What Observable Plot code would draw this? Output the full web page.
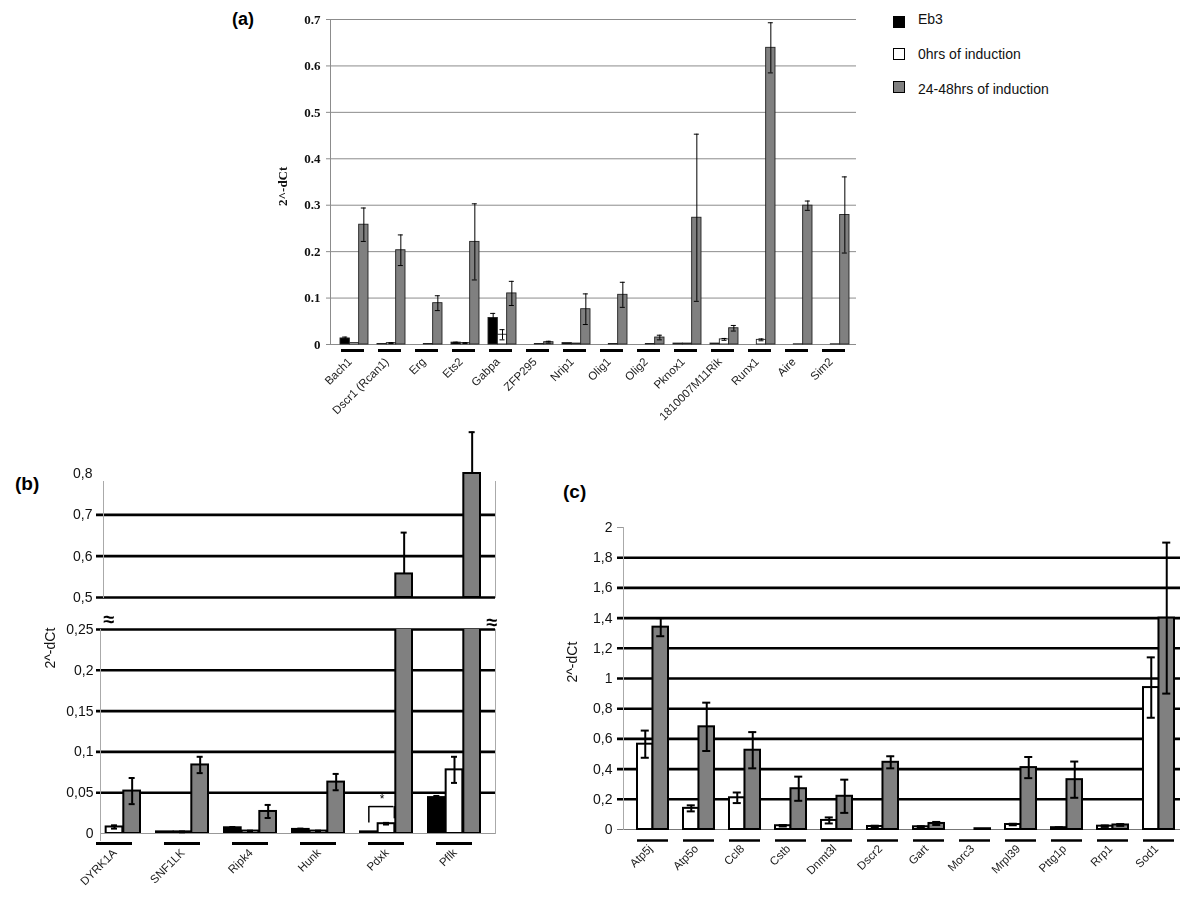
<!DOCTYPE html>
<html><head><meta charset="utf-8">
<script src="https://cdn.jsdelivr.net/npm/d3@7"></script>
<script src="https://cdn.jsdelivr.net/npm/@observablehq/plot@0.6"></script>
<style>
body{margin:0;background:#fff;}
#root{position:relative;width:1200px;height:898px;overflow:hidden;font-family:"Liberation Sans",Arial,sans-serif;background:#fff;}
.abs{position:absolute;white-space:nowrap;}
.sq{position:absolute;box-sizing:border-box;width:12px;height:12px;border:1.5px solid #000;}
.lg{position:absolute;font-size:14px;line-height:16px;color:#111;white-space:nowrap;}
.pl{position:absolute;font-weight:bold;font-family:"Liberation Sans",Arial,sans-serif;}
svg{filter:grayscale(100%);}
</style></head><body><div id="root"></div>
<script>
// ---------- shared series ----------
const seriesNames = ["Eb3", "0hrs of induction", "24-48hrs of induction"];
const seriesFill = ["#000000", "#ffffff", "#808080"];

// ---------- panel (a) ----------
const genesA = ["Bach1", "Dscr1 (Rcan1)", "Erg", "Ets2", "Gabpa", "ZFP295", "Nrip1", "Olig1", "Olig2", "Pknox1", "1810007M11Rik", "Runx1", "Aire", "Sim2"];
const eb3A    = [0.013, 0.001, 0, 0.004, 0.057, 0, 0.003, 0, 0, 0.002, 0.002, 0, 0, 0];
const eb3ErrA = [0.003, 0, 0, 0.001, 0.010, 0, 0, 0, 0, 0, 0, 0, 0, 0];
const h0A     = [0.003, 0.003, 0.001, 0.003, 0.021, 0.001, 0.002, 0.001, 0.001, 0.002, 0.011, 0.010, 0.0005, 0.0005];
const h0ErrA  = [0, 0.001, 0, 0.001, 0.011, 0, 0, 0, 0, 0, 0.002, 0.002, 0, 0];
const h24A    = [0.258, 0.203, 0.089, 0.221, 0.110, 0.005, 0.076, 0.107, 0.015, 0.273, 0.035, 0.639, 0.299, 0.279];
const h24ErrA = [0.036, 0.033, 0.016, 0.082, 0.026, 0.002, 0.033, 0.027, 0.005, 0.180, 0.006, 0.054, 0.010, 0.082];
const ticksA  = [0, 0.1, 0.2, 0.3, 0.4, 0.5, 0.6, 0.7];

// ---------- panel (b) ----------
const genesB = ["DYRK1A", "SNF1LK", "Ripk4", "Hunk", "Pdxk", "Pflk"];
const eb3B    = [0, 0.002, 0.007, 0.005, 0.002, 0.044];
const eb3ErrB = [0, 0, 0.001, 0.001, 0, 0.002];
const h0B     = [0.008, 0.002, 0.003, 0.003, 0.012, 0.078];
const h0ErrB  = [0.002, 0.0005, 0.0005, 0.0005, 0.001, 0.016];
const h24B    = [0.052, 0.084, 0.027, 0.063, 0.557, 0.800];
const h24ErrB = [0.016, 0.010, 0.008, 0.010, 0.100, 0.100];
const ticksBLow  = [0, 0.05, 0.1, 0.15, 0.2, 0.25];
const ticksBHigh = [0.5, 0.6, 0.7, 0.8];
const bracketB = [{gene: "Pdxk", y: 0.033, left: 0.013, right: 0.018, label: "*"}];

// ---------- panel (c) ----------
const genesC = ["Atp5j", "Atp5o", "Ccl8", "Cstb", "Dnmt3l", "Dscr2", "Gart", "Morc3", "Mrpl39", "Pttg1p", "Rrp1", "Sod1"];
const h0C     = [0.565, 0.14, 0.21, 0.025, 0.06, 0.02, 0.018, 0, 0.033, 0.012, 0.022, 0.94];
const h0ErrC  = [0.09, 0.02, 0.035, 0.005, 0.02, 0.005, 0.004, 0, 0.005, 0.003, 0.005, 0.20];
const h24C    = [1.34, 0.68, 0.525, 0.27, 0.22, 0.445, 0.04, 0.005, 0.41, 0.33, 0.03, 1.40];
const h24ErrC = [0.06, 0.16, 0.12, 0.08, 0.11, 0.04, 0.01, 0, 0.07, 0.12, 0.006, 0.50];
const ticksC  = [0, 0.2, 0.4, 0.6, 0.8, 1, 1.2, 1.4, 1.6, 1.8, 2];

const yTitle = "2^-dCt";

// ---------- helpers ----------
const root = document.getElementById("root");
const SANS = "'Liberation Sans', Arial, sans-serif";
const SERIF = "'Liberation Serif', 'Times New Roman', serif";
const commaFmt = d => d === 0 ? "0" : String(d).replace(".", ",");

function groupBars(genes, vals, errs, fills, o) {
  const n = vals.length, w = o.bw / n, marks = [];
  vals.forEach((vs, k) => {
    const rows = genes.map((g, i) => ({gene: g, v: vs[i], e: errs[k][i]}))
      .filter(d => d.v > 0 && (!o.keep || o.keep(d)));
    marks.push(Plot.barY(rows, {x: "gene", y1: o.base || 0, y2: "v", fill: fills[k],
      stroke: o.stroke, strokeWidth: o.sw, insetLeft: k * w, insetRight: (n - 1 - k) * w, clip: o.clip}));
  });
  vals.forEach((vs, k) => {
    const rows = genes.map((g, i) => ({gene: g, v: vs[i], e: errs[k][i]}))
      .filter(d => d.v > 0 && d.e > 0 && (!o.errKeep || o.errKeep(d)));
    const dx = (k - (n - 1) / 2) * w;
    const ci = (w - o.cap) / 2;
    marks.push(Plot.ruleX(rows, {x: "gene", y1: d => o.upOnly ? d.v : d.v - d.e, y2: d => d.v + d.e,
      dx, stroke: "#000", strokeWidth: o.ew}));
    marks.push(Plot.tickY(rows, {x: "gene", y: d => d.v + d.e, insetLeft: k * w + ci,
      insetRight: (n - 1 - k) * w + ci, stroke: "#000", strokeWidth: o.ew}));
    if (!o.upOnly) marks.push(Plot.tickY(rows, {x: "gene", y: d => d.v - d.e, insetLeft: k * w + ci,
      insetRight: (n - 1 - k) * w + ci, stroke: "#000", strokeWidth: o.ew}));
  });
  return marks;
}

function place(svg, left, top) {
  svg.style.position = "absolute";
  svg.style.left = left + "px";
  svg.style.top = top + "px";
  svg.style.maxWidth = "none";
  svg.style.background = "transparent";
  svg.style.overflow = "visible";
  root.appendChild(svg);
}
function html(cls, css, text) {
  const el = document.createElement("div");
  el.className = cls;
  el.style.cssText = css;
  if (text != null) el.textContent = text;
  root.appendChild(el);
  return el;
}
const baseStyle = {fontFamily: SANS, fontSize: "11px", background: "transparent", overflow: "visible", color: "#000"};

// ---------- panel (a) ----------
{
  const range = [339, 849], pin = 0.245;
  const bw = d3.scaleBand(genesA, range).paddingInner(pin).paddingOuter(0).bandwidth();
  const svg = Plot.plot({
    width: 870, height: 440, marginLeft: 330, marginRight: 14, marginTop: 19, marginBottom: 96,
    style: baseStyle,
    x: {type: "band", domain: genesA, range, paddingInner: pin, paddingOuter: 0, axis: null},
    y: {domain: [0, 0.7], axis: null},
    marks: [
      Plot.ruleY(ticksA, {stroke: "#8c8c8c", strokeWidth: 1, insetLeft: -4}),
      Plot.frame({anchor: "left", stroke: "#8c8c8c"}),
      Plot.text(ticksA, {y: d => d, text: d => String(d), frameAnchor: "left", textAnchor: "end", dx: -10,
        fontFamily: SERIF, fontWeight: "bold", fontSize: 13, fill: "#111"}),
      ...groupBars(genesA, [eb3A, h0A, h24A], [eb3ErrA, h0ErrA, h24ErrA], seriesFill,
        {bw, stroke: "#222", sw: 0.9, ew: 1, cap: 5}),
      Plot.tickY(genesA, {x: d => d, y: 0, dy: 6, stroke: "#000", strokeWidth: 3, insetLeft: 1, insetRight: 4}),
      Plot.text(genesA, {x: d => d, text: d => d, frameAnchor: "bottom", rotate: -45, textAnchor: "end",
        dx: -2, dy: 18, fontSize: 11.5, fill: "#1a1a1a"}),
      Plot.text([yTitle], {text: d => d, frameAnchor: "left", rotate: -90, dx: -48, dy: 24,
        fontFamily: SERIF, fontWeight: "bold", fontSize: 13, fill: "#111"})
    ]
  });
  place(svg, 0, 0);
  html("pl", "left:232px;top:9px;font-size:18px;", "(a)");
  // legend
  const sqTops = [16, 48, 81], txtTops = [11, 46, 81];
  seriesNames.forEach((s, i) => {
    html("sq", `left:893px;top:${sqTops[i]}px;background:${seriesFill[i]};`);
    html("lg", `left:918px;top:${txtTops[i]}px;`, s);
  });
}

// ---------- panel (b) ----------
{
  const range = [85.5, 482], pin = 0.229;
  const bw = d3.scaleBand(genesB, range).paddingInner(pin).paddingOuter(0).bandwidth();
  const w = bw / 3;
  const vals = [eb3B, h0B, h24B], errs = [eb3ErrB, h0ErrB, h24ErrB];
  const common = {
    width: 520, marginLeft: 100, marginRight: 25, style: baseStyle,
    x: {type: "band", domain: genesB, range, paddingInner: pin, paddingOuter: 0, axis: null}
  };
  // upper part (0.5 - 0.8)
  const top = Plot.plot({
    ...common, height: 182, marginTop: 53, marginBottom: 5,
    y: {domain: [0.5, 0.8], axis: null},
    marks: [
      Plot.ruleY(ticksBHigh.filter(t => t < 0.8), {stroke: "#000", strokeWidth: 2.6, insetLeft: -4}),
      Plot.frame({anchor: "left", stroke: "#aaa", insetTop: 8, dx: 3}),
      Plot.frame({anchor: "right", stroke: "#aaa", insetTop: 8}),
      Plot.text(ticksBHigh, {y: d => d, text: commaFmt, frameAnchor: "left", textAnchor: "end", dx: -8, fontSize: 14, fill: "#111"}),
      ...groupBars(genesB, vals, errs, seriesFill,
        {bw, base: 0.5, stroke: "#000", sw: 2, ew: 2, cap: 7, upOnly: true,
         keep: d => d.v > 0.5, errKeep: d => d.v > 0.5})
    ]
  });
  place(top, 0, 420);
  // lower part (0 - 0.25)
  const low = Plot.plot({
    ...common, height: 298, marginTop: 29, marginBottom: 65,
    y: {domain: [0, 0.25], axis: null},
    marks: [
      Plot.ruleY(ticksBLow.filter(t => t > 0), {stroke: "#000", strokeWidth: 2.6, insetLeft: -4}),
      Plot.ruleY([0], {stroke: "#999", strokeWidth: 1}),
      Plot.frame({anchor: "left", stroke: "#aaa", insetBottom: -7}),
      Plot.frame({anchor: "right", stroke: "#aaa"}),
      Plot.text(ticksBLow, {y: d => d, text: commaFmt, frameAnchor: "left", textAnchor: "end", dx: -7, fontSize: 14, fill: "#111"}),
      ...groupBars(genesB, vals, errs, seriesFill,
        {bw, stroke: "#000", sw: 2, ew: 2, cap: 7, clip: true, errKeep: d => d.v + d.e <= 0.25}),
      // significance bracket
      Plot.ruleX(bracketB, {x: "gene", y1: "left", y2: "y", dx: -w, stroke: "#000", strokeWidth: 1.5}),
      Plot.ruleX(bracketB, {x: "gene", y1: "right", y2: "y", dx: w / 2 - 1, stroke: "#000", strokeWidth: 1.5}),
      Plot.tickY(bracketB, {x: "gene", y: "y", insetLeft: w / 2, insetRight: w + 1, stroke: "#000", strokeWidth: 1.5}),
      Plot.text(bracketB, {x: "gene", y: "y", text: "label", dx: -w / 4, dy: -7, fontSize: 12}),
      Plot.tickY(genesB, {x: d => d, y: 0, dy: 10, stroke: "#000", strokeWidth: 3, insetLeft: 8, insetRight: 8}),
      Plot.text(genesB, {x: d => d, text: d => d, frameAnchor: "bottom", rotate: -45, textAnchor: "end",
        dx: 3, dy: 20, fontSize: 11.5, fill: "#1a1a1a"}),
      Plot.text(["≈"], {text: d => d, frameAnchor: "top-left", dx: 3, dy: -18, fontSize: 20, fontWeight: "bold"}),
      Plot.text(["≈"], {text: d => d, frameAnchor: "top-right", dx: 2, dy: -15, fontSize: 20, fontWeight: "bold"}),
      Plot.text([yTitle], {text: d => d, frameAnchor: "left", rotate: -90, dx: -50, dy: -63, fontSize: 14, fill: "#111"})
    ]
  });
  place(low, 0, 600);
  html("pl", "left:15px;top:473px;font-size:19px;", "(b)");
}

// ---------- panel (c) ----------
{
  const range = [94.5, 635.9], pin = 0.333;
  const bw = d3.scaleBand(genesC, range).paddingInner(pin).paddingOuter(0).bandwidth();
  const svg = Plot.plot({
    width: 660, height: 398, marginLeft: 83, marginRight: 20, marginTop: 27, marginBottom: 69,
    style: baseStyle,
    x: {type: "band", domain: genesC, range, paddingInner: pin, paddingOuter: 0, axis: null},
    y: {domain: [0, 2], axis: null},
    marks: [
      Plot.ruleY(ticksC.filter(t => t > 0 && t < 2), {stroke: "#000", strokeWidth: 2.6, insetLeft: -6}),
      Plot.ruleY([0], {stroke: "#777", strokeWidth: 1, insetLeft: -6}),
      Plot.ruleY([2], {stroke: "#999", strokeWidth: 1, insetLeft: -6, insetRight: 557}),
      Plot.frame({anchor: "left", stroke: "#aaa"}),
      Plot.text(ticksC, {y: d => d, text: commaFmt, frameAnchor: "left", textAnchor: "end", dx: -11, fontSize: 14, fill: "#111"}),
      ...groupBars(genesC, [h0C, h24C], [h0ErrC, h24ErrC], [seriesFill[1], seriesFill[2]],
        {bw, stroke: "#000", sw: 2, ew: 2, cap: 8}),
      Plot.tickY(genesC, {x: d => d, y: 0, dy: 11, stroke: "#000", strokeWidth: 2.5}),
      Plot.text(genesC, {x: d => d, text: d => d, frameAnchor: "bottom", rotate: -45, textAnchor: "end",
        dx: 0, dy: 20, fontSize: 11.5, fill: "#1a1a1a"}),
      Plot.text([yTitle], {text: d => d, frameAnchor: "left", rotate: -90, dx: -51, dy: 4, fontSize: 14, fill: "#111"})
    ]
  });
  place(svg, 540, 500);
  html("pl", "left:563px;top:481px;font-size:19px;", "(c)");
}
</script></body></html>
